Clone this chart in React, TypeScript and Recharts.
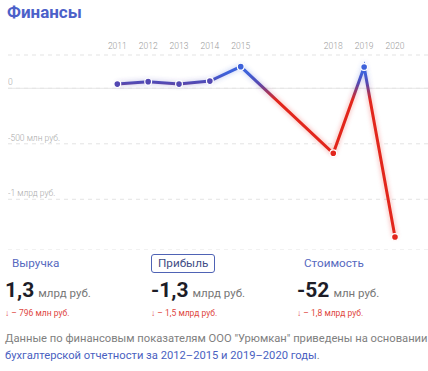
import { LineChart, Line, XAxis, YAxis, CartesianGrid, ReferenceLine } from 'recharts';

// прибыль, млн руб.
const years = [2011, 2012, 2013, 2014, 2015, 2018, 2019, 2020];
const profit = [38, 60, 38, 65, 195, -585, 192, -1340];

const yTicks = [0, -500, -1000];
const yTickLabels = ['0', '-500 млн руб.', '-1 млрд руб.'];

const statTitles = ['Выручка', 'Прибыль', 'Стоимость'];
const statValues = ['1,3', '-1,3', '-52'];
const statUnits = ['млрд руб.', 'млрд руб.', 'млн руб.'];
const statChanges = ['– 796 млн руб.', '– 1,5 млрд руб.', '– 1,8 млрд руб.'];
const activeStat = 1;

const data = years.map((year, i) => ({ year, value: profit[i] }));

const BLUE = '#3d62da';
const PURPLE = '#5348b2';
const RED = '#e2261c';
const FONT = 'Roboto, sans-serif';

const maxV = Math.max(...profit);
const minV = Math.min(...profit);
const zeroOff = maxV / (maxV - minV);

function dotColor(v: number) {
  if (v > 150) return BLUE;
  if (v >= 0) return PURPLE;
  return RED;
}

const renderDot = (props: any) => {
  const { cx, cy, payload, index } = props;
  return (
    <circle key={`d${index}`} cx={cx} cy={cy} r={3.4} fill={dotColor(payload.value)} stroke="#fff" strokeWidth={1.2} />
  );
};

export default function App() {
  return (
    <div style={{ position: 'relative', width: 428, height: 371, fontFamily: FONT, background: '#fff' }}>
      <style>{`body{margin:0}`}</style>
      <div style={{ position: 'absolute', left: 7, top: 4, fontSize: 17, lineHeight: '17px', fontWeight: 700, color: '#4c61c9' }}>
        Финансы
      </div>

      <div style={{ position: 'absolute', left: 8, top: 0 }}>
        <LineChart width={420} height={250} data={data} margin={{ top: 35, right: 0, left: 0, bottom: 0 }}>
          <defs>
            <linearGradient id="profitGrad" x1="0" y1="0" x2="0" y2="1">
              <stop offset={0} stopColor={BLUE} />
              <stop offset={zeroOff - 0.09} stopColor={BLUE} />
              <stop offset={zeroOff - 0.03} stopColor={PURPLE} />
              <stop offset={zeroOff + 0.07} stopColor={RED} />
              <stop offset={1} stopColor={RED} />
            </linearGradient>
            <filter id="glow" x="-10%" y="-10%" width="120%" height="120%">
              <feGaussianBlur in="SourceGraphic" stdDeviation="2.5" result="blur" />
              <feColorMatrix in="blur" type="matrix" values="1 0 0 0 0  0 1 0 0 0  0 0 1 0 0  0 0 0 0.4 0" result="soft" />
              <feMerge>
                <feMergeNode in="soft" />
                <feMergeNode in="SourceGraphic" />
              </feMerge>
            </filter>
          </defs>
          <CartesianGrid vertical={false} stroke="#e3e3e3" strokeDasharray="4 4" />
          <XAxis
            dataKey="year"
            type="number"
            orientation="top"
            domain={[2007.457, 2021.07]}
            ticks={years}
            height={20}
            axisLine={false}
            tickLine={false}
            tickSize={0}
            tickMargin={6}
            tick={{ fontSize: 8.5, fill: '#9a9a9a', fontFamily: FONT, fontWeight: 300 }}
          />
          <YAxis
            type="number"
            domain={[-1457, 300]}
            ticks={yTicks}
            mirror
            width={120}
            axisLine={false}
            tickLine={false}
            tickSize={0}
            tickMargin={0}
            tickFormatter={(v: number) => yTickLabels[yTicks.indexOf(v)]}
            tick={{ fontSize: 8.5, fill: '#a8a8a8', fontFamily: FONT, fontWeight: 300, dy: -6 }}
          />
          <ReferenceLine y={0} stroke="#e6e6e6" strokeWidth={1} />
          <Line
            dataKey="value"
            type="linear"
            stroke="url(#profitGrad)"
            strokeWidth={3}
            filter="url(#glow)"
            dot={renderDot}
            activeDot={false}
            isAnimationActive={false}
          />
        </LineChart>
      </div>

      {statTitles.map((t, i) => (
        <div key={t} style={{ position: 'absolute', left: 5 + i * 146, top: 252, width: 146 }}>
          <div
            style={{
              display: 'inline-block',
              marginLeft: i === activeStat ? 0 : 7,
              padding: i === activeStat ? '2px 6px' : '3px 0',
              border: i === activeStat ? '1px solid #4f63b5' : 'none',
              borderRadius: 3,
              fontSize: 11.7,
              lineHeight: '13px',
              color: i === activeStat ? '#3f4d85' : '#5669c0',
            }}
          >
            {t}
          </div>
          <div style={{ position: 'absolute', left: 0, top: 28, whiteSpace: 'nowrap', lineHeight: '21px' }}>
            <span style={{ fontSize: 21, fontWeight: 700, color: '#1d1d28' }}>{statValues[i]}</span>
            <span style={{ fontSize: 11.5, color: '#777', marginLeft: 4 }}>{statUnits[i]}</span>
          </div>
          <div style={{ position: 'absolute', left: 0, top: 57, fontSize: 8.5, lineHeight: '9px', color: '#e0473f', whiteSpace: 'nowrap' }}>
            ↓ {statChanges[i]}
          </div>
        </div>
      ))}

      <div style={{ position: 'absolute', left: 5, top: 330, fontSize: 11.2, lineHeight: '17px', color: '#808080', whiteSpace: 'nowrap' }}>
        <div>Данные по финансовым показателям ООО "Урюмкан" приведены на основании</div>
        <div>
          <span style={{ color: '#4a5fc1' }}>бухгалтерской отчетности за 2012–2015 и 2019–2020 годы</span>.
        </div>
      </div>
    </div>
  );
}
